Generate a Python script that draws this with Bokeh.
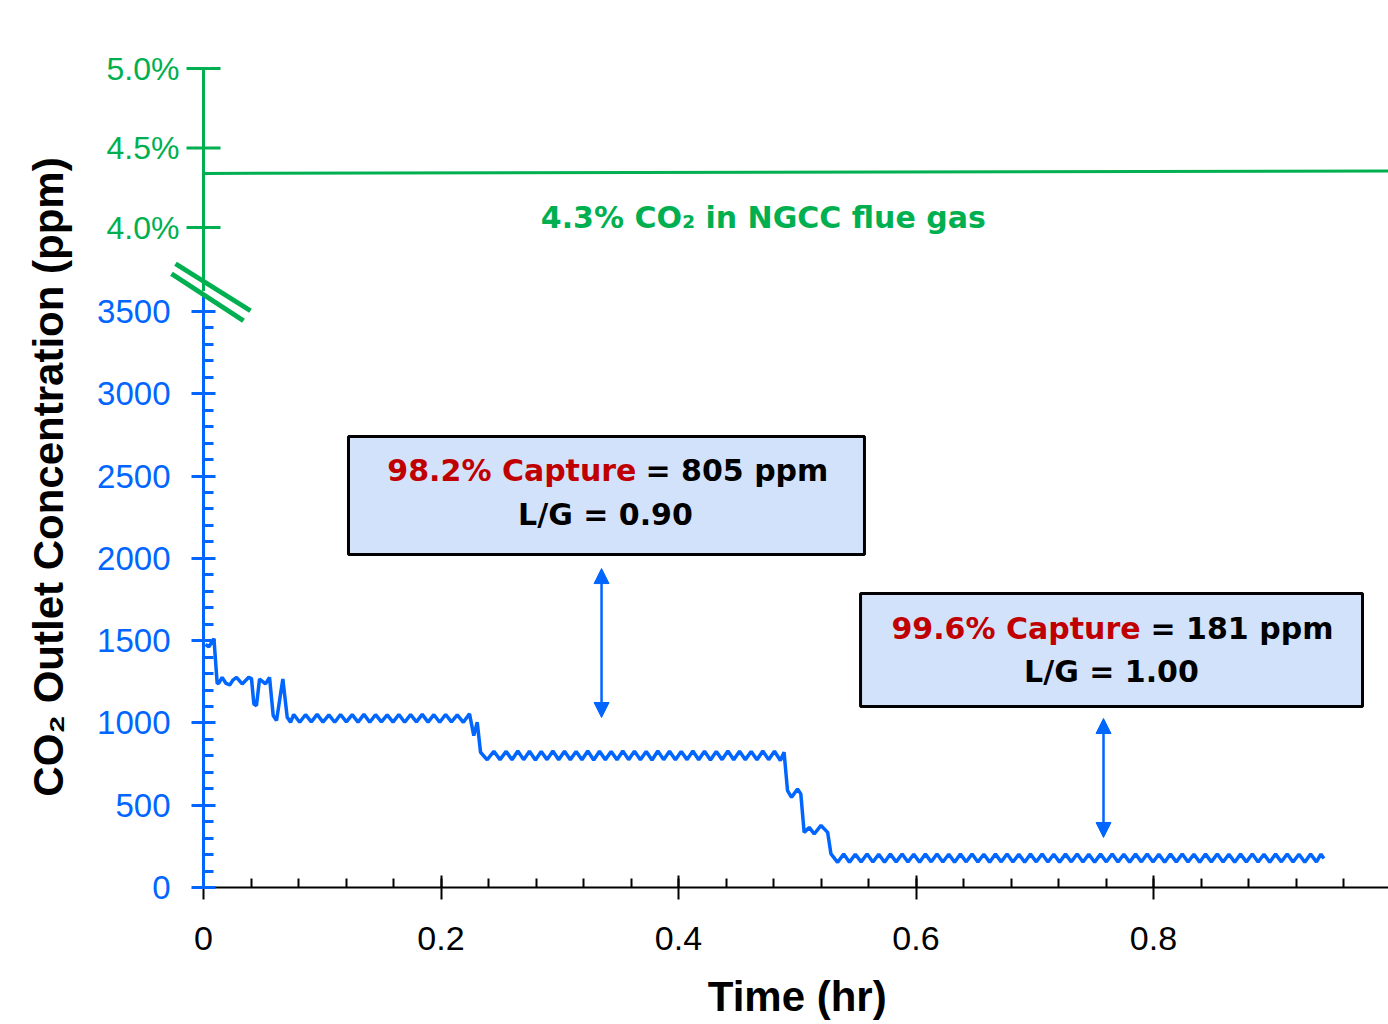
from bokeh.plotting import figure
from bokeh.models import Range1d, FixedTicker, CustomJSTickFormatter, Arrow, NormalHead
from bokeh.core.properties import value
from bokeh.embed import file_html
from bokeh.resources import INLINE

# ------------------------------------------------------------------ data
# start-up transient
t_startup = [0.0017, 0.0045, 0.0088, 0.0115, 0.0129, 0.0157, 0.0190, 0.0221, 0.0250, 0.0278,
             0.0326, 0.0381, 0.0404, 0.0424, 0.0446, 0.0472, 0.0522, 0.0556, 0.0587, 0.0615,
             0.0668, 0.0705, 0.0733]
ppm_startup = [1478, 1462, 1512, 1240, 1242, 1277, 1240, 1231, 1262, 1277,
               1237, 1277, 1270, 1115, 1105, 1267, 1237, 1277, 1045, 1015,
               1267, 1034, 1004]

# first steady period
t_lg_a = [0.0760, 0.0810, 0.0859, 0.0908, 0.0957, 0.1006, 0.1056, 0.1105, 0.1154, 0.1203,
          0.1252, 0.1301, 0.1351, 0.1400, 0.1449, 0.1498, 0.1547, 0.1596, 0.1645, 0.1694,
          0.1744, 0.1793, 0.1842, 0.1891, 0.1940, 0.1989, 0.2039, 0.2088, 0.2137, 0.2188,
          0.2240, 0.2276, 0.2305, 0.2333, 0.2389]
ppm_lg_a = [1051, 1004, 1050, 1006, 1052, 1005, 1049, 1004, 1051, 1006,
            1050, 1005, 1052, 1004, 1050, 1006, 1049, 1005, 1051, 1004,
            1050, 1006, 1052, 1005, 1050, 1004, 1051, 1006, 1049, 1004,
            1055, 923, 1004, 822, 776]

# L/G = 0.90 plateau (98.2 % capture)
t_lg090 = [0.2445, 0.2497, 0.2549, 0.2598, 0.2647, 0.2696, 0.2745, 0.2795, 0.2844, 0.2893,
           0.2942, 0.2991, 0.3040, 0.3089, 0.3138, 0.3187, 0.3236, 0.3286, 0.3335, 0.3384,
           0.3433, 0.3482, 0.3531, 0.3580, 0.3629, 0.3679, 0.3728, 0.3777, 0.3826, 0.3875,
           0.3924, 0.3974, 0.4023, 0.4072, 0.4121, 0.4170, 0.4219, 0.4269, 0.4318, 0.4367,
           0.4416, 0.4465, 0.4514, 0.4563, 0.4612, 0.4661, 0.4710, 0.4759, 0.4808, 0.4858,
           0.4889]
ppm_lg090 = [828, 777, 827, 776, 829, 777, 828, 775, 827, 777,
             829, 776, 828, 777, 827, 776, 829, 775, 828, 777,
             827, 776, 829, 777, 828, 776, 827, 775, 829, 777,
             828, 776, 827, 777, 829, 776, 828, 775, 827, 777,
             829, 776, 828, 777, 827, 776, 829, 777, 828, 772,
             822]

# transition to L/G = 1.00
t_step = [0.4918, 0.4952, 0.5002, 0.5030, 0.5058, 0.5101, 0.5143, 0.5200, 0.5256, 0.5284,
          0.5340]
ppm_step = [589, 548, 599, 569, 335, 365, 325, 377, 335, 204,
            153]

# L/G = 1.00 plateau (99.6 % capture)
t_lg100 = [0.5391, 0.5440, 0.5489, 0.5538, 0.5588, 0.5637, 0.5686, 0.5735, 0.5784, 0.5833,
           0.5883, 0.5932, 0.5981, 0.6030, 0.6079, 0.6128, 0.6177, 0.6226, 0.6276, 0.6325,
           0.6374, 0.6423, 0.6472, 0.6521, 0.6571, 0.6620, 0.6669, 0.6718, 0.6767, 0.6816,
           0.6866, 0.6915, 0.6964, 0.7013, 0.7062, 0.7111, 0.7160, 0.7209, 0.7259, 0.7308,
           0.7357, 0.7406, 0.7455, 0.7504, 0.7554, 0.7603, 0.7652, 0.7701, 0.7750, 0.7799,
           0.7849, 0.7898, 0.7947, 0.7996, 0.8045, 0.8094, 0.8143, 0.8192, 0.8242, 0.8291,
           0.8340, 0.8389, 0.8438, 0.8487, 0.8537, 0.8586, 0.8635, 0.8684, 0.8733, 0.8782,
           0.8832, 0.8881, 0.8930, 0.8979, 0.9028, 0.9077, 0.9126, 0.9175, 0.9225, 0.9274,
           0.9323, 0.9372, 0.9410, 0.9435]
ppm_lg100 = [203, 154, 202, 156, 204, 155, 202, 154, 203, 156,
             204, 155, 202, 154, 203, 156, 204, 155, 202, 154,
             203, 156, 204, 155, 202, 154, 203, 156, 204, 155,
             202, 154, 203, 156, 204, 155, 202, 154, 203, 156,
             204, 155, 202, 154, 203, 156, 204, 155, 202, 154,
             203, 156, 204, 155, 202, 154, 203, 156, 204, 155,
             202, 154, 203, 156, 204, 155, 202, 154, 203, 156,
             204, 155, 202, 154, 203, 156, 204, 155, 202, 154,
             203, 156, 202, 176]

t_hr = t_startup + t_lg_a + t_lg090 + t_step + t_lg100
co2_ppm = ppm_startup + ppm_lg_a + ppm_lg090 + ppm_step + ppm_lg100

# inlet CO2 of the NGCC flue gas (upper, broken % axis)
ngcc_t = [0.0, 1.0]
ngcc_pct = [4.34, 4.356]
ngcc_text = "4.3% CO\u2082  in NGCC flue gas"

# axes ticks
ppm_ticks = [0, 500, 1000, 1500, 2000, 2500, 3000, 3500]
ppm_minor = list(range(0, 3501, 100))
pct_ticks = [4.0, 4.5, 5.0]
pct_labels = ["4.0%", "4.5%", "5.0%"]
time_ticks = [0.0, 0.2, 0.4, 0.6, 0.8, 1.0]
time_labels = ["0", "0.2", "0.4", "0.6", "0.8", "1"]
time_minor = [round(0.04 * i, 2) for i in range(26)]
x_title = "Time (hr)"
y_title = "CO\u2082 Outlet Concentration (ppm)"

# annotations
capture_labels = ["98.2% Capture", "99.6% Capture"]
ppm_labels = ["= 805 ppm", "= 181 ppm"]
lg_labels = ["L/G = 0.90", "L/G = 1.00"]

# ------------------------------------------------------------------ layout
BLUE = "#0066FF"
GREEN = "#00B050"
RED = "#C00000"
BOX_FILL = "#D3E2FB"

W, H = 1388, 1020
B_LEFT, B_RIGHT, B_TOP = 203, 0, 66
FRAME_BOTTOM = 887
B_BOTTOM = H - FRAME_BOTTOM
frame_w = W - B_LEFT - B_RIGHT
frame_h = FRAME_BOTTOM - B_TOP
PX_PER_HR = 1187.5
PX_PER_PPM = 576.0 / 3500.0
PX_PER_PCT = 159.0
PCT4_PX_ABOVE_BOTTOM = 660.0
XTITLE_PX_BELOW_AXIS = 109

x_end = frame_w / PX_PER_HR
y_top = frame_h / PX_PER_PPM
pct_lo = 4.0 - PCT4_PX_ABOVE_BOTTOM / PX_PER_PCT
pct_hi = pct_lo + frame_h / PX_PER_PCT

p = figure(width=W, height=H, x_range=Range1d(0, x_end), y_range=Range1d(0, y_top),
           output_backend="svg", toolbar_location=None,
           min_border_left=B_LEFT, min_border_right=B_RIGHT,
           min_border_top=B_TOP, min_border_bottom=B_BOTTOM)
p.extra_y_ranges = {"pct": Range1d(pct_lo, pct_hi)}
p.outline_line_color = None
p.grid.visible = False
p.background_fill_color = "white"
p.border_fill_color = "white"

TICK_FONT = "Liberation Sans"
ANN_FONT = "DejaVu Sans"
ANN_SIZE = "30px"

# ---- ppm (blue) axis
ya = p.yaxis[0]
ya.ticker = FixedTicker(ticks=ppm_ticks, minor_ticks=ppm_minor)
ya.bounds = (0, 3600)
ya.axis_line_color = BLUE
ya.axis_line_width = 3
ya.major_tick_line_color = BLUE
ya.major_tick_line_width = 3
ya.major_tick_in = 12
ya.major_tick_out = 12
ya.minor_tick_line_color = BLUE
ya.minor_tick_line_width = 3
ya.minor_tick_in = 10
ya.minor_tick_out = 0
ya.major_label_text_color = BLUE
ya.major_label_text_font = TICK_FONT
ya.major_label_text_font_size = "33px"
ya.major_label_standoff = 21
ya.axis_label = y_title
ya.axis_label_text_font = TICK_FONT
ya.axis_label_text_font_style = "bold"
ya.axis_label_text_font_size = "42px"
ya.axis_label_text_color = "black"
ya.axis_label_standoff = 22

# ---- time axis
xa = p.xaxis[0]
xa.ticker = FixedTicker(ticks=time_ticks, minor_ticks=time_minor)
xa.bounds = (0, 1)
xa.formatter = CustomJSTickFormatter(args=dict(tvals=time_ticks, tlabels=time_labels), code="""
    for (let i = 0; i < tvals.length; i++) {
        if (Math.abs(tvals[i] - tick) < 1e-9) return tlabels[i];
    }
    return String(tick);
""")
xa.axis_line_color = "black"
xa.axis_line_width = 2
xa.major_tick_line_color = "black"
xa.major_tick_line_width = 2
xa.major_tick_in = 12
xa.major_tick_out = 12
xa.minor_tick_line_color = "black"
xa.minor_tick_line_width = 2
xa.minor_tick_in = 9
xa.minor_tick_out = 0
xa.major_label_text_color = "black"
xa.major_label_text_font = TICK_FONT
xa.major_label_text_font_size = "34px"
xa.major_label_standoff = 27

# x-axis title below the tick labels (overlay level so it is not clipped)
p.text([0.5 * x_end + 0.001], [-XTITLE_PX_BELOW_AXIS / PX_PER_PPM], text=[x_title],
       text_align="center", text_baseline="middle",
       text_font=value(TICK_FONT), text_font_style="bold", text_font_size="42px",
       text_color="black", level="overlay")

# ---- upper % (green) axis drawn on the extra range
p.line([0, 0], [3.6, 5.0], y_range_name="pct", line_color=GREEN, line_width=3, level="overlay")
p.scatter([0] * len(pct_ticks), pct_ticks, y_range_name="pct", marker="dash", size=34,
          line_color=GREEN, line_width=3, level="overlay")
p.text([0] * len(pct_ticks), pct_ticks, text=pct_labels, y_range_name="pct",
       x_offset=-24, text_align="right", text_baseline="middle",
       text_font=value(TICK_FONT), text_font_size="32px", text_color=GREEN, level="overlay")

# axis break marks (screen-pixel offsets around the break at x=0, 3620 ppm)
BREAK_PPM = 3620
brk = [((-28, -28), (47, 19)), ((-32, -18), (40, 29))]
bx0 = [a[0] / PX_PER_HR for a, b in brk]
by0 = [BREAK_PPM - a[1] / PX_PER_PPM for a, b in brk]
bx1 = [b[0] / PX_PER_HR for a, b in brk]
by1 = [BREAK_PPM - b[1] / PX_PER_PPM for a, b in brk]
p.segment(bx0, by0, bx1, by1, line_color=GREEN, line_width=5, level="overlay")

# NGCC flue gas line + label
p.line(ngcc_t, ngcc_pct, y_range_name="pct", line_color=GREEN, line_width=3)
p.text([0.4758], [4.063], text=[ngcc_text], y_range_name="pct",
       text_align="center", text_baseline="middle",
       text_font=value(ANN_FONT), text_font_style="bold", text_font_size=ANN_SIZE,
       text_color=GREEN)

# ---- measured outlet CO2
p.line(t_hr, co2_ppm, line_color=BLUE, line_width=3.5)

# ---- annotation boxes
box_left = [0.1221, 0.5533]
box_right = [0.5566, 0.9760]
box_bottom = [2023, 1100]
box_top = [2740, 1786]
p.quad(left=box_left, right=box_right, bottom=box_bottom, top=box_top,
       fill_color=BOX_FILL, line_color="black", line_width=3)

red_end_x = [0.3646, 0.7891]
black_start_x = [0.3722, 0.7975]
line1_y = [2534, 1574]
line2_x = [0.3385, 0.7646]
line2_y = [2266, 1312]
p.text(red_end_x, line1_y, text=capture_labels,
       text_align="right", text_baseline="middle",
       text_font=value(ANN_FONT), text_font_style="bold", text_font_size=ANN_SIZE, text_color=RED)
p.text(black_start_x, line1_y, text=ppm_labels,
       text_align="left", text_baseline="middle",
       text_font=value(ANN_FONT), text_font_style="bold", text_font_size=ANN_SIZE, text_color="black")
p.text(line2_x, line2_y, text=lg_labels,
       text_align="center", text_baseline="middle",
       text_font=value(ANN_FONT), text_font_style="bold", text_font_size=ANN_SIZE, text_color="black")

# ---- double-headed arrows
arrow_x = [0.3352, 0.7579]
arrow_lo = [1033, 304]
arrow_hi = [1938, 1027]
for ax_, lo, hi in zip(arrow_x, arrow_lo, arrow_hi):
    p.add_layout(Arrow(x_start=ax_, y_start=lo, x_end=ax_, y_end=hi,
                       start=NormalHead(size=15, fill_color=BLUE, line_color=BLUE, line_width=1),
                       end=NormalHead(size=15, fill_color=BLUE, line_color=BLUE, line_width=1),
                       line_color=BLUE, line_width=2.5))

open("out.html", "w").write(file_html(p, INLINE))
